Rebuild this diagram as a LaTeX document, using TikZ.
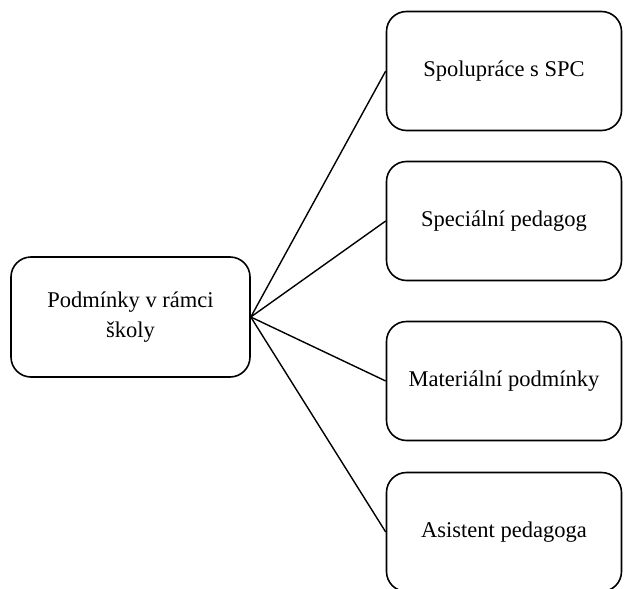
\documentclass[tikz,border=0pt]{standalone}
\usepackage{fontspec}
\setmainfont{Liberation Serif}
\begin{document}
\begin{tikzpicture}[x=1pt,y=-1pt,
  box/.style={draw=black,line width=1.6pt,rounded corners=20pt,
    minimum width=237pt,minimum height=119pt,inner sep=0pt,
    align=center,font=\fontsize{22.5}{29.5}\selectfont},
  link/.style={draw=black,line width=1.4pt}]
\useasboundingbox (0,0) rectangle (624,589);
\node[box,minimum width=239pt,minimum height=120pt] (root) at (130.5,317) {Podmínky v rámci\\školy};
\node[box,minimum width=235pt] (spc) at (504,71) {Spolupráce s SPC};
\node[box,minimum width=235pt] (spec) at (504,221) {Speciální pedagog};
\node[box,minimum width=235pt] (mat) at (504,381) {Materiální podmínky};
\node[box,minimum width=235pt] (asist) at (504,532) {Asistent pedagoga};
\foreach \t in {spc,spec,mat,asist}
  \draw[link] (root.east) -- (\t.west);
\end{tikzpicture}
\end{document}
